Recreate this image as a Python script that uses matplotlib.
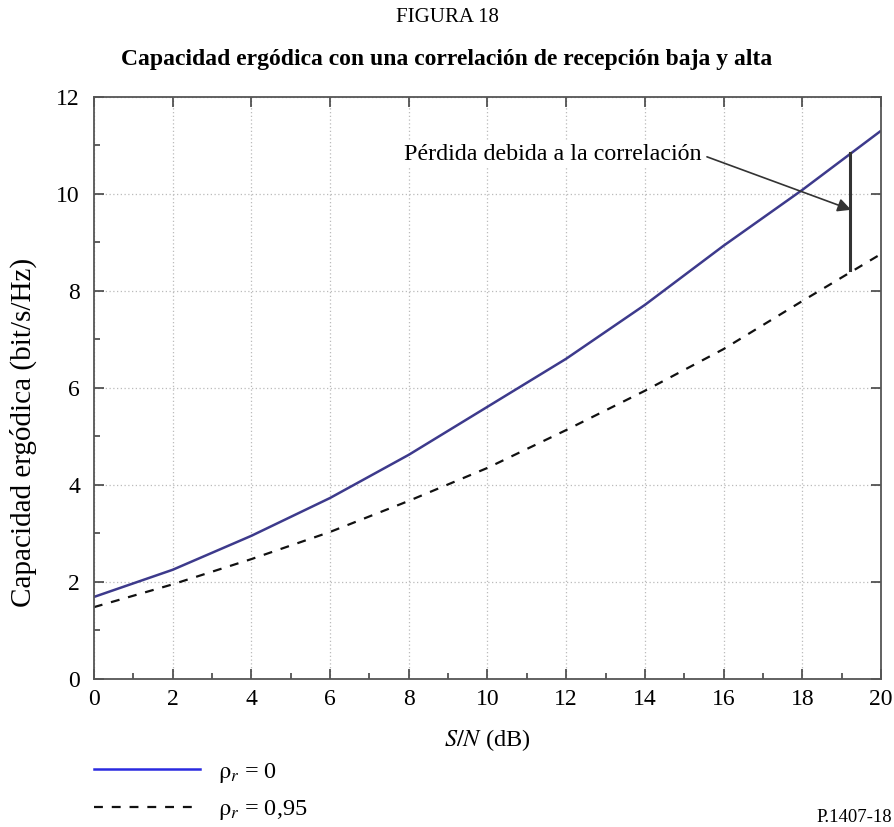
import matplotlib
matplotlib.use("Agg")
import matplotlib.pyplot as plt
from matplotlib.lines import Line2D
from matplotlib.ticker import MultipleLocator

plt.rcParams['font.family'] = ['Liberation Serif', 'DejaVu Serif']
plt.rcParams['mathtext.fontset'] = 'stix'

snr_db = [0, 2, 4, 6, 8, 10, 12, 14, 16, 18, 20]
cap_rho0 = [1.69, 2.25, 2.95, 3.73, 4.62, 5.61, 6.60, 7.71, 8.93, 10.08, 11.30]
cap_rho095 = [1.48, 1.95, 2.47, 3.03, 3.67, 4.35, 5.13, 5.94, 6.80, 7.79, 8.76]
x_ticks = [0, 2, 4, 6, 8, 10, 12, 14, 16, 18, 20]
y_ticks = [0, 2, 4, 6, 8, 10, 12]
loss_x = 19.2
loss_top = 10.85
loss_bottom = 8.42

fig = plt.figure(figsize=(8.94, 8.27), dpi=100)
ax = fig.add_axes([0.105, 0.179, 0.8805, 0.704])

line_col = '#3d3a8c'
ax.plot(snr_db, cap_rho0, color=line_col, lw=1.8, solid_capstyle='butt')
ax.plot(snr_db, cap_rho095, color='#111111', lw=1.6, ls=(0, (4, 4)))

ax.set_xlim(0, 20)
ax.set_ylim(0, 12)
ax.set_xticks(x_ticks)
ax.set_yticks(y_ticks)
ax.xaxis.set_minor_locator(MultipleLocator(1))
ax.yaxis.set_minor_locator(MultipleLocator(1))
ax.grid(True, which='major', color='#bbbbbb', ls=(0, (1, 2)), lw=0.9)
ax.tick_params(which='major', direction='in', length=7, width=1.2, color='#444444',
               labelsize=17, top=True, right=True)
ax.tick_params(axis='x', which='major', pad=7)
ax.tick_params(axis='y', which='major', pad=10)
ax.tick_params(which='minor', direction='in', length=4, width=1.2, color='#444444')
for s in ax.spines.values():
    s.set_color('#555555')
    s.set_linewidth(1.3)

ax.set_xlabel(r'$S/N$ (dB)', fontsize=17.5, va='center')
ax.xaxis.set_label_coords(0.5, -0.1048)
ax.set_ylabel('Capacidad ergódica (bit/s/Hz)', fontsize=21, va='center')
ax.yaxis.set_label_coords(-0.089, 0.424)

# loss marker
ax.plot([loss_x, loss_x], [loss_top, loss_bottom], color='#333333', lw=2.2)
ax.annotate('Pérdida debida a la correlación', xy=(19.24, 9.67), xytext=(15.45, 10.80),
            fontsize=17.3, ha='right', va='center',
            bbox=dict(boxstyle='square,pad=0.1', fc='white', ec='none'),
            arrowprops=dict(arrowstyle='-|>', color='#333333', lw=1.2,
                            mutation_scale=20, shrinkA=2, shrinkB=0,
                            relpos=(1.0, 0.5)))

fig.text(0.5, 1 - 18 / 827, 'FIGURA 18', ha='center', va='center', fontsize=15)
fig.text(0.5, 1 - 60 / 827, 'Capacidad ergódica con una correlación de recepción baja y alta',
         ha='center', va='center', fontsize=17, fontweight='bold')
fig.text(0.998, 1 - 818 / 827, 'P.1407-18', ha='right', va='center', fontsize=13.5)

handles = [Line2D([], [], color='#2a2ae0', lw=1.8),
           Line2D([], [], color='#111111', lw=1.6, ls=(0, (4, 4)))]
labels = [r'$\mathrm{\rho}_{r}$ = 0', r'$\mathrm{\rho}_{r}$ = 0,95']
fig.legend(handles, labels, loc='upper left', bbox_to_anchor=(0.105, 0.080),
           frameon=False, fontsize=17.5, handlelength=4.36, handletextpad=0.74,
           labelspacing=0.55, borderaxespad=0, borderpad=0)

fig.savefig('out.png', dpi=100)
